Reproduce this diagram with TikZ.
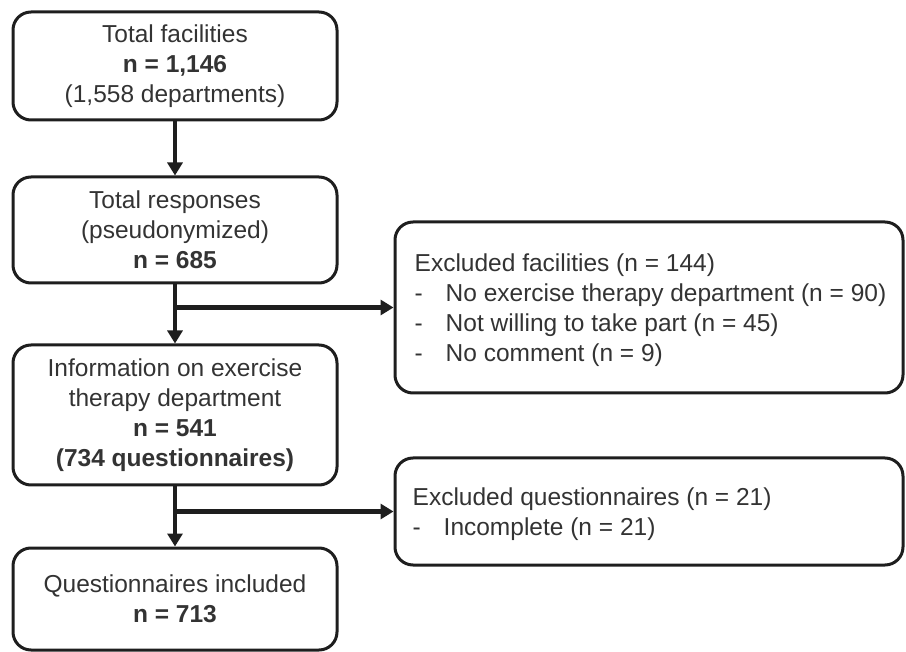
\documentclass[tikz,border=0pt]{standalone}
\usepackage{fontspec}
\setmainfont{Liberation Sans}
\usetikzlibrary{positioning,arrows.meta}
\definecolor{ink}{HTML}{1E1E1E}
\definecolor{txt}{HTML}{333333}
\newcommand{\exitem}[1]{\makebox[31pt][l]{-}#1}

\begin{document}
\begin{tikzpicture}[
  x = 1pt,
  y = -1pt,
  mainbox/.style = {
    draw = ink,
    rectangle,
    rounded corners = 18pt,
    line width = 3pt,
    minimum width = 324pt,
    inner sep = 0pt,
    align = center,
    text = txt,
  },
  sidebox/.style = {
    draw = ink,
    rectangle,
    rounded corners = 18pt,
    line width = 3pt,
    minimum width = 508pt,
    inner sep = 0pt,
  },
  sidetext/.style = {
    inner sep = 0pt,
    align = left,
    text = txt,
  },
  flow/.style = {
    draw = ink,
    line width = 4.5pt,
    -{Triangle[length=13pt,width=15pt]},
  },
  font = \fontsize{24.5}{30}\selectfont,
]

  \useasboundingbox (0,0) rectangle (906,652);

  \node[mainbox, minimum height = 108pt] (total) at (175,66) {Total facilities\\\textbf{n = 1,146}\\(1,558 departments)};
  \node[mainbox, minimum height = 106pt] (resp) [below=54pt of total] {Total responses\\(pseudonymized)\\\textbf{n = 685}};
  \node[mainbox, minimum height = 140pt] (info) [below=59pt of resp] {Information on exercise\\therapy department\\\textbf{n = 541}\\\textbf{(734 questionnaires)}};
  \node[mainbox, minimum height = 102pt] (incl) [below=60pt of info] {Questionnaires included\\\textbf{n = 713}};

  \node[sidebox, minimum height = 171pt] (exfac) at (649,307.5) {};
  \node[sidebox, minimum height = 107pt] (exq) [below=62pt of exfac] {};

  \node[sidetext] (exfactxt) [below right=33pt and 21pt of exfac.north west] {Excluded facilities (n = 144)\\\exitem{No exercise therapy department (n = 90)}\\\exitem{Not willing to take part (n = 45)}\\\exitem{No comment (n = 9)}};
  \node[sidetext] (exqtxt) [below right=31pt and 19pt of exq.north west] {Excluded questionnaires (n = 21)\\\exitem{Incomplete (n = 21)}};

  \draw[flow] (total) -- (resp);
  \draw[flow] (resp) -- (info);
  \draw[flow] (info) -- (incl);

  \draw[flow] (resp.south |- exfac.west) -- (exfac.west);
  \draw[flow] (info.south |- exq.west) -- (exq.west);

\end{tikzpicture}
\end{document}
